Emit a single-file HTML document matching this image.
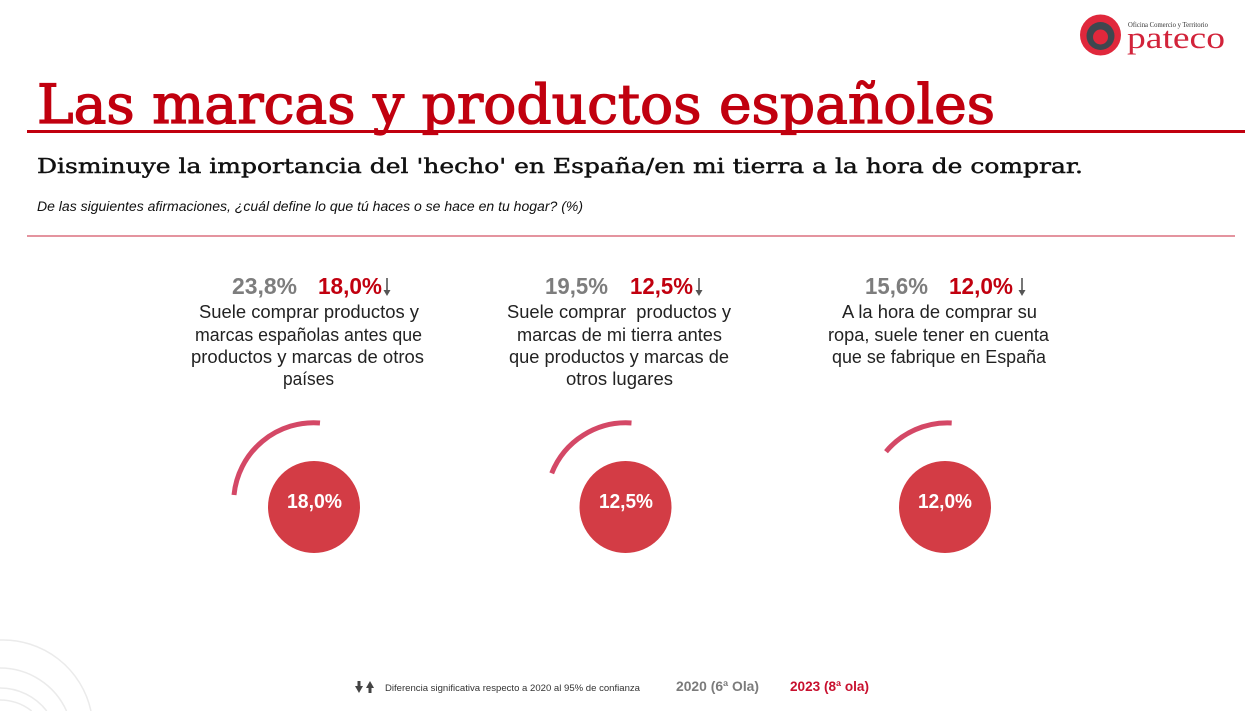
<!DOCTYPE html>
<html>
<head>
<meta charset="utf-8">
<style>
html,body{margin:0;padding:0;background:#fff;overflow:hidden;width:1245px;height:711px;}
svg{display:block;}
</style>
</head>
<body>
<svg width="1245" height="711" viewBox="0 0 1245 711" xmlns="http://www.w3.org/2000/svg">
  <rect width="1245" height="711" fill="#ffffff"/>

  <!-- bottom-left decoration (arcs clipped to frame) -->
  <g fill="none" stroke="#ebebeb" stroke-width="1.5">
    <path d="M 0 640.05 A 90 90 0 0 1 90.97 711"/>
    <path d="M 0 668 A 73 73 0 0 1 66.55 711"/>
    <path d="M 0 688 A 59 59 0 0 1 46.74 711"/>
    <path d="M 0 700 A 51 51 0 0 1 31.64 711"/>
  </g>

  <!-- logo -->
  <circle cx="1100.5" cy="35" r="20.5" fill="#e0283c"/>
  <circle cx="1100.5" cy="36" r="14" fill="#3e474f"/>
  <circle cx="1100.5" cy="37" r="7.5" fill="#e0283c"/>
  <text x="1128" y="27" font-family="Liberation Serif, serif" font-size="7.5" fill="#333" textLength="80" lengthAdjust="spacingAndGlyphs">Oficina Comercio y Territorio</text>
  <text x="1127" y="48" font-family="Liberation Serif, serif" font-size="31" fill="#d2233a" textLength="98" lengthAdjust="spacingAndGlyphs">pateco</text>

  <!-- title -->
  <text x="37" y="123" font-family="DejaVu Serif, Liberation Serif, serif" font-size="54" fill="#c1000f" stroke="#c1000f" stroke-width="1.3" textLength="958" lengthAdjust="spacingAndGlyphs">Las marcas y productos españoles</text>
  <rect x="27" y="130" width="1218" height="3" fill="#c1000f"/>

  <text x="37" y="173" font-family="DejaVu Serif, Liberation Serif, serif" font-size="20.5" fill="#111" stroke="#111" stroke-width="0.45" textLength="1046" lengthAdjust="spacingAndGlyphs">Disminuye la importancia del 'hecho' en España/en mi tierra a la hora de comprar.</text>

  <text x="37" y="211" font-family="Liberation Sans, sans-serif" font-style="italic" font-size="13.5" fill="#111" textLength="546" lengthAdjust="spacingAndGlyphs">De las siguientes afirmaciones, ¿cuál define lo que tú haces o se hace en tu hogar? (%)</text>

  <rect x="27" y="235.5" width="1208" height="1" fill="#c8283f"/>

  <!-- Panel 1 -->
  <g font-family="Liberation Sans, sans-serif">
    <text x="232" y="294" font-size="23" font-weight="bold" fill="#7d7d7d" textLength="65" lengthAdjust="spacingAndGlyphs">23,8%</text>
    <text x="318" y="294" font-size="23" font-weight="bold" fill="#c1000f" textLength="64" lengthAdjust="spacingAndGlyphs">18,0%</text>
    <g fill="#555" stroke="#555">
      <line x1="387" y1="278" x2="387" y2="292" stroke-width="1.6"/>
      <polygon points="383.5,290 390.5,290 387,296" stroke="none"/>
    </g>
    <g font-size="18" fill="#222">
      <text x="199" y="318" textLength="220" lengthAdjust="spacingAndGlyphs">Suele comprar productos y</text>
      <text x="195" y="341" textLength="227" lengthAdjust="spacingAndGlyphs">marcas españolas antes que</text>
      <text x="191" y="363" textLength="233" lengthAdjust="spacingAndGlyphs">productos y marcas de otros</text>
      <text x="283" y="385" textLength="51" lengthAdjust="spacingAndGlyphs">países</text>
    </g>
  </g>
  <path d="M 320 423 A 80 80 0 0 0 234 495" fill="none" stroke="#d44866" stroke-width="5"/>
  <circle cx="314" cy="507" r="46" fill="#d33c45"/>
  <text x="287" y="508" font-family="Liberation Sans, sans-serif" font-size="20" font-weight="bold" fill="#fff" textLength="55" lengthAdjust="spacingAndGlyphs">18,0%</text>

  <!-- Panel 2 -->
  <g font-family="Liberation Sans, sans-serif">
    <text x="545" y="294" font-size="23" font-weight="bold" fill="#7d7d7d" textLength="63" lengthAdjust="spacingAndGlyphs">19,5%</text>
    <text x="630" y="294" font-size="23" font-weight="bold" fill="#c1000f" textLength="63" lengthAdjust="spacingAndGlyphs">12,5%</text>
    <g fill="#555" stroke="#555">
      <line x1="699" y1="278" x2="699" y2="292" stroke-width="1.6"/>
      <polygon points="695.5,290 702.5,290 699,296" stroke="none"/>
    </g>
    <g font-size="18" fill="#222">
      <text x="507" y="318" textLength="224" lengthAdjust="spacingAndGlyphs" xml:space="preserve">Suele comprar  productos y</text>
      <text x="517" y="341" textLength="205" lengthAdjust="spacingAndGlyphs">marcas de mi tierra antes</text>
      <text x="509" y="363" textLength="220" lengthAdjust="spacingAndGlyphs">que productos y marcas de</text>
      <text x="566" y="385" textLength="107" lengthAdjust="spacingAndGlyphs">otros lugares</text>
    </g>
  </g>
  <path d="M 631.5 423 A 80 80 0 0 0 551.7 473.3" fill="none" stroke="#d44866" stroke-width="5"/>
  <circle cx="625.5" cy="507" r="46" fill="#d33c45"/>
  <text x="599" y="508" font-family="Liberation Sans, sans-serif" font-size="20" font-weight="bold" fill="#fff" textLength="54" lengthAdjust="spacingAndGlyphs">12,5%</text>

  <!-- Panel 3 -->
  <g font-family="Liberation Sans, sans-serif">
    <text x="865" y="294" font-size="23" font-weight="bold" fill="#7d7d7d" textLength="63" lengthAdjust="spacingAndGlyphs">15,6%</text>
    <text x="949" y="294" font-size="23" font-weight="bold" fill="#c1000f" textLength="64" lengthAdjust="spacingAndGlyphs">12,0%</text>
    <g fill="#555" stroke="#555">
      <line x1="1022" y1="278" x2="1022" y2="292" stroke-width="1.6"/>
      <polygon points="1018.5,290 1025.5,290 1022,296" stroke="none"/>
    </g>
    <g font-size="18" fill="#222">
      <text x="842" y="318" textLength="195" lengthAdjust="spacingAndGlyphs">A la hora de comprar su</text>
      <text x="828" y="341" textLength="221" lengthAdjust="spacingAndGlyphs">ropa, suele tener en cuenta</text>
      <text x="832" y="363" textLength="214" lengthAdjust="spacingAndGlyphs">que se fabrique en España</text>
    </g>
  </g>
  <path d="M 951.7 423 A 80 80 0 0 0 886 451.7" fill="none" stroke="#d44866" stroke-width="5"/>
  <circle cx="945" cy="507" r="46" fill="#d33c45"/>
  <text x="918" y="508" font-family="Liberation Sans, sans-serif" font-size="20" font-weight="bold" fill="#fff" textLength="54" lengthAdjust="spacingAndGlyphs">12,0%</text>

  <!-- footer -->
  <g fill="#444">
    <rect x="357.5" y="681" width="3" height="6"/>
    <polygon points="355,686 363,686 359,693"/>
    <rect x="368.5" y="687" width="3" height="6"/>
    <polygon points="366,688 374,688 370,681"/>
  </g>
  <text x="385" y="691" font-family="Liberation Sans, sans-serif" font-size="9.5" fill="#333" textLength="255" lengthAdjust="spacingAndGlyphs">Diferencia significativa respecto a 2020 al 95% de confianza</text>
  <text x="676" y="691" font-family="Liberation Sans, sans-serif" font-size="14" font-weight="bold" fill="#7b7b7b" textLength="83" lengthAdjust="spacingAndGlyphs">2020 (6ª Ola)</text>
  <text x="790" y="691" font-family="Liberation Sans, sans-serif" font-size="14" font-weight="bold" fill="#c8102e" textLength="79" lengthAdjust="spacingAndGlyphs">2023 (8ª ola)</text>
</svg>
</body>
</html>
